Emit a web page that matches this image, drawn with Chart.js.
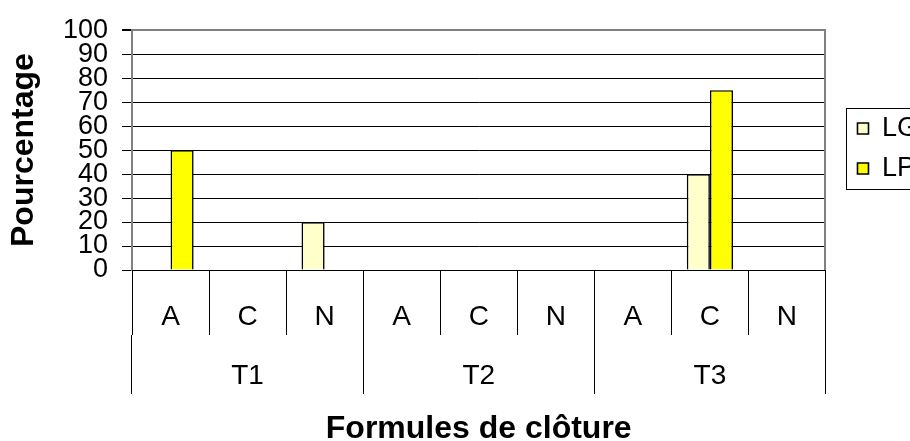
<!DOCTYPE html>
<html>
<head>
<meta charset="utf-8">
<script src="https://cdn.jsdelivr.net/npm/chart.js@4.4.0/dist/chart.umd.min.js"></script>
<style>
html, body { margin: 0; padding: 0; background: #fff; overflow: hidden; width: 910px; height: 441px; }
#wrap { width: 928px; height: 441px; }
</style>
</head>
<body>
<div id="wrap"><canvas id="chart" width="928" height="441"></canvas></div>
<script>
// ==================== DONNÉES ====================
const categories = ["A", "C", "N", "A", "C", "N", "A", "C", "N"];
const groups = ["T1", "T2", "T3"];
const seriesLG = [0, 0, 20, 0, 0, 0, 0, 40, 0];
const seriesLP = [50, 0, 0, 0, 0, 0, 0, 75, 0];
const yMax = 100;
const yStep = 10;

Chart.defaults.font.family = "'Liberation Sans', Arial, sans-serif";
Chart.defaults.color = "#000";

// cadre autour de la légende
const legendFrame = {
    id: "legendFrame",
    afterDraw(chart) {
        const lg = chart.legend;
        if (!lg || !lg.legendHitBoxes || !lg.legendHitBoxes.length) return;
        const hb = lg.legendHitBoxes;
        const x0 = Math.min(...hb.map(h => h.left)) - 11;
        const x1 = Math.max(...hb.map(h => h.left + h.width)) + 14;
        const y0 = Math.min(...hb.map(h => h.top)) - 7;
        const y1 = Math.max(...hb.map(h => h.top + h.height)) + 7;
        const ctx = chart.ctx;
        ctx.save();
        ctx.strokeStyle = "#000";
        ctx.lineWidth = 1;
        ctx.strokeRect(Math.round(x0) + 0.5, Math.round(y0) + 0.5, x1 - x0, y1 - y0);
        ctx.restore();
    }
};

const ctx = document.getElementById("chart").getContext("2d");
new Chart(ctx, {
    type: "bar",
    data: {
        labels: categories,
        datasets: [
            {
                label: "LG",
                data: seriesLG,
                backgroundColor: "#FFFFCC",
                borderColor: "#000",
                borderWidth: 1.6,
                categoryPercentage: 0.6,
                barPercentage: 1
            },
            {
                label: "LP",
                data: seriesLP,
                backgroundColor: "#FFFF00",
                borderColor: "#000",
                borderWidth: 1.6,
                categoryPercentage: 0.6,
                barPercentage: 1
            }
        ]
    },
    options: {
        responsive: false,
        animation: false,
        layout: { padding: { top: 26, left: 0, right: 0, bottom: 0 } },
        plugins: {
            tooltip: { enabled: false },
            legend: {
                position: "right",
                align: "start",
                title: { display: true, text: "", font: { size: 10 }, padding: { top: 64, bottom: 0 } },
                labels: {
                    boxWidth: 11,
                    boxHeight: 11,
                    padding: 13,
                    color: "#000",
                    font: { size: 27 }
                }
            }
        },
        scales: {
            y: {
                min: 0,
                max: yMax,
                ticks: { stepSize: yStep, autoSkip: false, padding: 14, font: { size: 27 }, color: "#000" },
                grid: {
                    color: c => (c.tick && c.tick.value === yMax ? "#808080" : "#000"),
                    lineWidth: c => (c.tick && c.tick.value === yMax ? 2 : 1),
                    tickColor: "#000",
                    tickLength: 10
                },
                border: { color: "#808080", width: 2 },
                title: {
                    display: true,
                    text: "Pourcentage",
                    color: "#000",
                    font: { size: 32, weight: "bold" },
                    padding: { top: 5, bottom: 0 }
                },
                afterFit: s => { s.width = 132; }
            },
            y2: {
                position: "right",
                min: 0,
                max: yMax,
                ticks: { display: false },
                grid: { drawOnChartArea: false, drawTicks: false },
                border: { color: "#808080", width: 2 },
                afterFit: s => { s.width = 19; }
            },
            x: {
                offset: true,
                grid: { drawOnChartArea: false, offset: true, tickLength: 65, color: "#000" },
                border: { color: "#000" },
                ticks: { font: { size: 28 }, color: "#000", padding: -35, maxRotation: 0, autoSkip: false },
                afterFit: s => { s.height = 65; }
            },
            x2: {
                type: "category",
                labels: groups,
                position: "bottom",
                offset: true,
                grid: { drawOnChartArea: false, offset: true, tickLength: 59, color: "#000" },
                border: { display: false },
                ticks: { font: { size: 28 }, color: "#000", padding: -35, maxRotation: 0, autoSkip: false },
                title: {
                    display: true,
                    text: "Formules de clôture",
                    color: "#000",
                    font: { size: 32, weight: "bold" },
                    padding: { top: 0, bottom: -7 }
                },
                afterFit: s => { s.height = 106; }
            }
        }
    },
    plugins: [legendFrame]
});
</script>
</body>
</html>
